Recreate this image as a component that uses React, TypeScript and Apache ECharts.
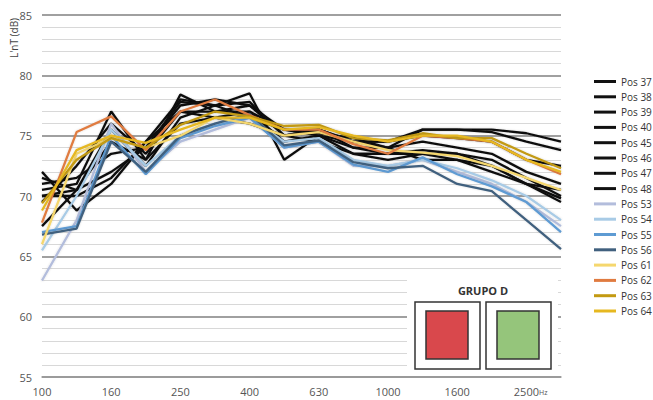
import React, { useEffect, useRef } from "react";
import * as echarts from "echarts";

const categories = ["100","125","160","200","250","315","400","500","630","800","1000","1250","1600","2000","2500","3150"];

const pos37 = [70.5, 71.0, 77.0, 73.0, 78.4, 77.0, 77.5, 75.0, 75.5, 74.5, 74.5, 75.5, 75.5, 75.5, 75.2, 74.5];
const pos38 = [72.0, 68.8, 71.0, 74.5, 78.0, 77.5, 78.5, 73.0, 75.0, 73.5, 73.0, 73.5, 73.5, 72.5, 71.0, 69.5];
const pos39 = [71.5, 70.5, 72.0, 74.0, 77.5, 78.0, 77.5, 75.5, 75.2, 74.8, 74.0, 75.5, 75.5, 75.3, 74.5, 73.8];
const pos40 = [70.0, 70.5, 75.5, 72.5, 76.5, 77.5, 77.8, 75.0, 75.5, 74.0, 73.5, 73.8, 73.5, 73.0, 71.5, 70.0];
const pos45 = [69.5, 72.5, 76.0, 73.5, 77.0, 77.0, 77.0, 75.5, 75.0, 74.5, 74.0, 73.0, 73.0, 72.0, 71.0, 70.5];
const pos46 = [67.5, 70.5, 74.5, 73.0, 76.0, 76.5, 77.0, 74.5, 75.0, 74.0, 74.0, 74.5, 74.0, 73.5, 72.0, 71.0];
const pos47 = [71.0, 71.5, 73.5, 74.0, 77.8, 77.5, 76.5, 75.5, 75.5, 74.5, 74.5, 75.0, 74.8, 74.5, 73.0, 72.5];
const pos48 = [70.0, 70.0, 71.5, 74.5, 77.0, 76.5, 76.0, 75.0, 74.5, 73.5, 73.5, 73.5, 73.0, 72.5, 71.0, 69.8];
const pos53 = [63.0, 68.0, 76.0, 72.0, 74.5, 75.5, 76.5, 74.0, 74.5, 72.5, 72.5, 73.0, 72.0, 71.0, 69.5, 67.5];
const pos54 = [65.5, 70.0, 75.5, 72.5, 75.0, 76.0, 76.5, 74.5, 74.8, 73.0, 72.5, 73.0, 72.3, 71.3, 70.0, 68.0];
const pos55 = [67.0, 67.5, 75.0, 71.8, 74.8, 75.8, 76.5, 74.0, 74.5, 72.6, 72.0, 73.2, 71.8, 70.8, 69.5, 67.0];
const pos56 = [66.8, 67.3, 74.5, 72.0, 75.0, 76.0, 76.8, 74.2, 74.6, 72.8, 72.3, 72.5, 71.0, 70.4, 68.0, 65.6];
const pos61 = [66.0, 73.5, 74.8, 74.0, 75.0, 76.5, 76.0, 75.0, 75.3, 74.5, 73.8, 73.6, 73.3, 72.5, 71.5, 70.5];
const pos62 = [67.8, 75.3, 76.6, 73.8, 77.0, 78.0, 76.7, 75.5, 75.5, 74.3, 73.5, 75.0, 74.8, 74.5, 73.0, 71.8];
const pos63 = [69.4, 73.0, 74.8, 74.0, 75.9, 77.0, 76.6, 75.8, 75.9, 74.8, 74.6, 75.2, 74.8, 74.8, 73.5, 72.3];
const pos64 = [68.8, 73.8, 75.0, 74.4, 75.5, 76.5, 76.5, 75.5, 75.7, 75.0, 74.5, 75.0, 75.0, 74.5, 73.0, 72.0];

const seriesNames = ["Pos 37","Pos 38","Pos 39","Pos 40","Pos 45","Pos 46","Pos 47","Pos 48","Pos 53","Pos 54","Pos 55","Pos 56","Pos 61","Pos 62","Pos 63","Pos 64"];
const seriesData = [pos37,pos38,pos39,pos40,pos45,pos46,pos47,pos48,pos53,pos54,pos55,pos56,pos61,pos62,pos63,pos64];
const seriesColors = ["#111","#111","#111","#111","#111","#111","#111","#111","#b3bddc","#a8cbe6","#5e9bd3","#41607e","#f5d76e","#e07b40","#c39a12","#e6b820"];

const yTicks = [55, 60, 65, 70, 75, 80, 85];

export default function App() {
  const ref = useRef<HTMLDivElement>(null);
  useEffect(() => {
    if (!ref.current) return;
    const chart = echarts.init(ref.current, null, { renderer: "svg" });
    const font = "'Open Sans', 'Liberation Sans', sans-serif";
    chart.setOption({
      animation: false,
      textStyle: { fontFamily: font },
      grid: { left: 42, right: 92, top: 15, bottom: 23 },
      legend: {
        orient: "vertical",
        left: 594,
        top: 76,
        itemWidth: 22,
        itemHeight: 3,
        itemGap: 4.3,
        padding: 0,
        textStyle: { fontSize: 10, lineHeight: 11, color: "#333", fontFamily: font },
        data: seriesNames.map((n) => ({ name: n, icon: "rect" })),
      },
      xAxis: {
        type: "category",
        data: categories,
        boundaryGap: false,
        axisLine: { lineStyle: { color: "#999", width: 1.5 } },
        axisTick: { show: false },
        axisLabel: { interval: 1, color: "#555", fontSize: 11, margin: 9 },
      },
      yAxis: {
        type: "value",
        min: yTicks[0],
        max: yTicks[yTicks.length - 1],
        interval: 5,
        axisLine: { show: false },
        axisTick: { show: false },
        axisLabel: { color: "#555", fontSize: 11, margin: 10 },
        splitLine: { lineStyle: { color: "#a0a0a0", width: 1.8 } },
        minorTick: { show: false, splitNumber: 5 },
        minorSplitLine: { show: true, lineStyle: { color: "#d8d8d8", width: 1.2 } },
      },
      series: seriesNames.map((name, i) => ({
        name,
        type: "line",
        data: seriesData[i],
        symbol: "none",
        color: seriesColors[i],
        lineStyle: { width: 2.3, color: seriesColors[i], shadowBlur: 2, shadowColor: "rgba(0,0,0,0.15)" },
      })),
      graphic: [
        { type: "text", x: 14, y: 38, rotation: Math.PI / 2, z: 100,
          style: { text: "L'nT (dB)", fill: "#444", font: `10px ${font}`, align: "center", verticalAlign: "middle" } },
        { type: "text", x: 539, y: 392, z: 100,
          style: { text: "Hz", fill: "#555", font: `7px ${font}`, align: "left", verticalAlign: "middle" } },
        { type: "rect", shape: { x: 407, y: 274, width: 151, height: 100 }, z: 90, style: { fill: "#fff" } },
        { type: "text", x: 483, y: 290, z: 100,
          style: { text: "GRUPO D", fill: "#333", font: `bold 11px ${font}`, align: "center", verticalAlign: "middle" } },
        { type: "rect", shape: { x: 415, y: 302, width: 65, height: 67 }, z: 100, style: { fill: "#fff", stroke: "#333", lineWidth: 1.5 } },
        { type: "rect", shape: { x: 426, y: 311, width: 42, height: 48 }, z: 101, style: { fill: "#d9484c", stroke: "#333", lineWidth: 1.5 } },
        { type: "rect", shape: { x: 486, y: 302, width: 65, height: 67 }, z: 100, style: { fill: "#fff", stroke: "#333", lineWidth: 1.5 } },
        { type: "rect", shape: { x: 497, y: 311, width: 42, height: 48 }, z: 101, style: { fill: "#95c57b", stroke: "#333", lineWidth: 1.5 } },
      ],
    });
    return () => chart.dispose();
  }, []);
  return <div ref={ref} style={{ width: 653, height: 400, position: "absolute", left: 0, top: 0 }} />;
}
